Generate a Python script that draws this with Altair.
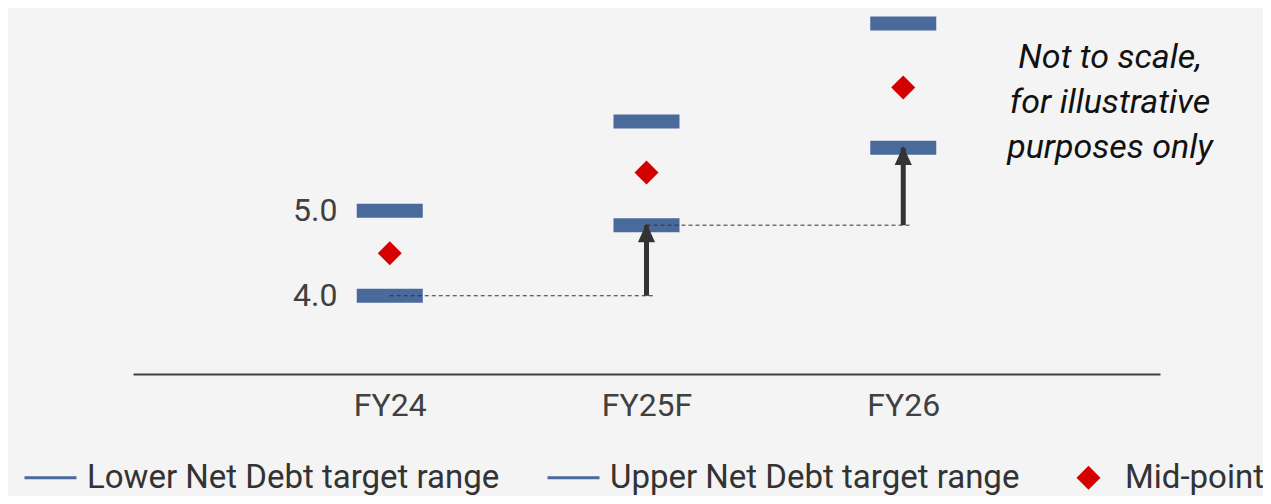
import altair as alt
import pandas as pd

# ---- data ----
years = ["FY24", "FY25F", "FY26"]
lower = [4.0, 4.83, 5.74]
upper = [5.0, 6.05, 7.20]
mid = [4.5, 5.45, 6.45]
series_names = ["Lower Net Debt target range", "Upper Net Debt target range", "Mid-point"]
y_ticks = [4.0, 5.0]
note_lines = ["Not to scale,", "for illustrative", "purposes only"]

BLUE = "#4a6a9b"
RED = "#d40000"
DARK = "#333333"
BG = "#f4f4f4"
FONT = "Roboto"
# small diamond drawn inside the unit box so that legend entries share one symbol size
DIAMOND = "M-0.38,0L0,-0.38L0.38,0L0,0.38Z"
ARROW_HEAD = "M-0.9,1.8L0,-0.2L0.9,1.8Z"

bars = pd.DataFrame({
    "year": years * 2,
    "value": lower + upper,
    "series": [series_names[0]] * 3 + [series_names[1]] * 3,
})
mids = pd.DataFrame({"year": years, "value": mid, "series": [series_names[2]] * 3})
links = pd.DataFrame({
    "from_year": years[:-1], "to_year": years[1:],
    "from_val": lower[:-1], "to_val": lower[1:],
})
note = pd.DataFrame({"k": [0]})

x_scale = alt.Scale(type="point", domain=years, padding=1)
y_scale = alt.Scale(domain=[3.08, 7.36], nice=False, zero=False)

X_AXIS = alt.Axis(domain=True, domainColor="#404040", domainWidth=2, ticks=False, tickSize=0,
                  labelPadding=16, labelFontSize=32, labelFont=FONT, labelColor="#404040",
                  labelAngle=0, grid=False, title=None)
Y_AXIS = alt.Axis(values=y_ticks, format=".1f", domain=False, ticks=False, tickSize=0,
                  grid=False, labelPadding=0, offset=-204, labelFontSize=32, labelFont=FONT,
                  labelColor="#404040", title=None)

LEG = alt.Legend(orient="none", legendX=-110, legendY=440, direction="horizontal", title=None,
                 labelFontSize=33, labelFont=FONT, labelColor="#333333", symbolStrokeWidth=3,
                 symbolSize=2704, labelOffset=9, columnPadding=41, labelLimit=0, symbolOpacity=1)


def X(field):
    return alt.X(field, scale=x_scale, axis=X_AXIS)


def Y(field):
    return alt.Y(field, scale=y_scale, axis=Y_AXIS)


range_bars = alt.Chart(bars).mark_tick(color=BLUE, thickness=14, size=66, opacity=1).encode(
    x=X("year:N"), y=Y("value:Q"), detail="series:N",
)

dashes = alt.Chart(links).mark_rule(color=DARK, strokeWidth=1, strokeDash=[4, 3], x2Offset=9).encode(
    x=X("from_year:N"), x2="to_year:N", y=Y("from_val:Q"),
)

shafts = alt.Chart(links).mark_rule(color=DARK, strokeWidth=5).encode(
    x=X("to_year:N"), y=Y("from_val:Q"), y2="to_val:Q",
)

heads = alt.Chart(links).mark_point(
    shape=ARROW_HEAD, size=361, filled=True, color=DARK, opacity=1
).encode(x=X("to_year:N"), y=Y("to_val:Q"))

points = alt.Chart(mids).mark_point(filled=False, fill=RED, strokeWidth=3, size=2704, opacity=1).encode(
    x=X("year:N"), y=Y("value:Q"),
    color=alt.Color("series:N", scale=alt.Scale(domain=series_names, range=[BLUE, BLUE, RED]), legend=LEG),
    shape=alt.Shape("series:N", scale=alt.Scale(domain=series_names, range=["stroke", "stroke", DIAMOND]), legend=LEG),
)

note_text = alt.Chart(note).mark_text(
    text=note_lines, font=FONT, fontStyle="italic", fontSize=34, lineHeight=45,
    align="center", baseline="alphabetic", color="#111111"
).encode(x=alt.value(977), y=alt.value(58))

chart = alt.layer(range_bars, dashes, shafts, heads, points, note_text).properties(
    width=1027, height=364,
    padding={"left": 125, "top": 2, "right": 103, "bottom": 122},
    autosize=alt.AutoSizeParams(type="none"),
).configure(background=BG).configure_view(stroke=None)

chart.save("out.html", embed_options={"renderer": "svg", "actions": False})
